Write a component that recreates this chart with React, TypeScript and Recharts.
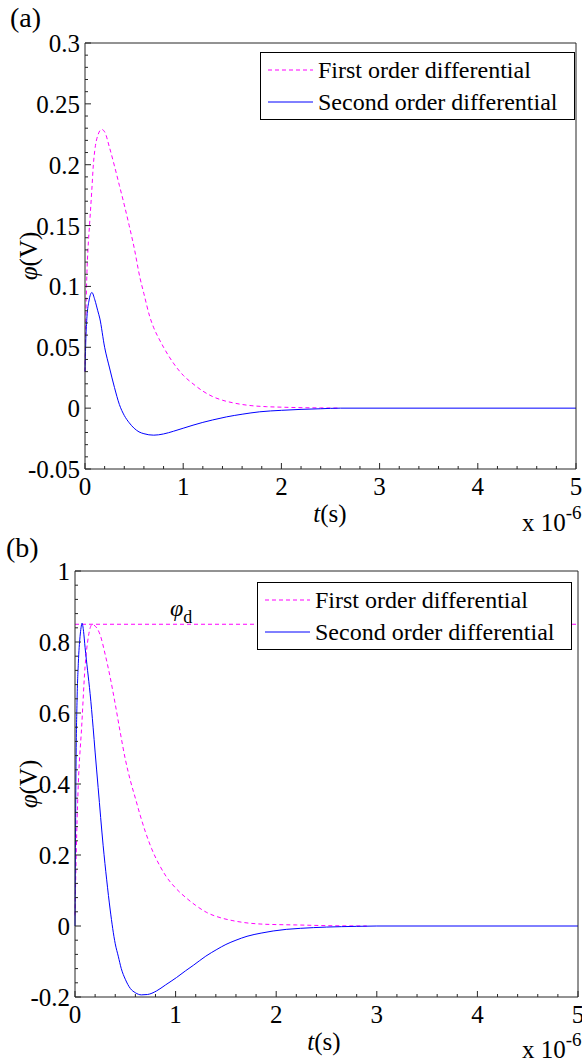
import React from 'react';
import { LineChart, Line, XAxis, YAxis, ReferenceLine, Legend } from 'recharts';

const FONT = '"Liberation Serif", "Times New Roman", Times, serif';
const AXIS_COLOR = '#262626';
const FIRST_COLOR = '#ff00ff';
const SECOND_COLOR = '#0000ff';
const DASH = '4 3';
const MAJOR_LEN = 6;
const MINOR_LEN = 3;
const TICK_FONT = 25;

const seriesNames = ['First order differential', 'Second order differential'];

// x axis (time, in units of 1e-6 s)
const xDomain: [number, number] = [0, 5];
const xMajorTicks = [0, 1, 2, 3, 4, 5];
const xMinorStep = 0.2;

// ---------- panel (a) ----------
const yDomainA: [number, number] = [-0.05, 0.3];
const yMajorTicksA = [-0.05, 0, 0.05, 0.1, 0.15, 0.2, 0.25, 0.3];
const yMinorStepA = 0.01;

const timeFirstA = [0, 0.01, 0.02, 0.03, 0.05, 0.07, 0.085, 0.1, 0.13, 0.17, 0.2, 0.25, 0.3, 0.35, 0.4, 0.45, 0.5, 0.56, 0.6, 0.66, 0.7, 0.76, 0.8, 0.9, 1.0, 1.1, 1.2, 1.3, 1.4, 1.5, 1.6, 1.7, 1.85, 2.0, 2.2, 2.4, 2.6];
const firstA = [0.03, 0.08, 0.112, 0.13, 0.155, 0.18, 0.2, 0.212, 0.224, 0.229, 0.227, 0.214, 0.199, 0.183, 0.167, 0.15, 0.132, 0.107, 0.094, 0.075, 0.066, 0.056, 0.05, 0.037, 0.027, 0.02, 0.014, 0.0095, 0.0065, 0.0045, 0.003, 0.002, 0.0012, 0.0008, 0.0004, 0.0002, 0];

const timeSecondA = [0, 0.01, 0.02, 0.04, 0.07, 0.1, 0.13, 0.15, 0.2, 0.25, 0.3, 0.35, 0.4, 0.45, 0.5, 0.55, 0.6, 0.7, 0.8, 0.9, 1.0, 1.1, 1.2, 1.3, 1.44, 1.6, 1.78, 2.0, 2.2, 2.4, 2.6, 5];
const secondA = [0.03, 0.06, 0.075, 0.088, 0.095, 0.089, 0.08, 0.074, 0.05, 0.033, 0.017, 0.003, -0.006, -0.012, -0.0165, -0.0195, -0.021, -0.0222, -0.0212, -0.019, -0.0165, -0.014, -0.0117, -0.0097, -0.0072, -0.005, -0.003, -0.0018, -0.001, -0.0005, 0, 0];

// ---------- panel (b) ----------
const yDomainB: [number, number] = [-0.2, 1];
const yMajorTicksB = [-0.2, 0, 0.2, 0.4, 0.6, 0.8, 1];
const yMinorStepB = 0.04;
const phiD = 0.85;

const timeFirstB = [0, 0.017, 0.033, 0.066, 0.1, 0.133, 0.17, 0.2, 0.25, 0.3, 0.35, 0.4, 0.45, 0.5, 0.55, 0.6, 0.65, 0.7, 0.76, 0.85, 0.91, 1.0, 1.11, 1.2, 1.31, 1.45, 1.57, 1.7, 1.84, 2.0, 2.2, 2.5, 2.9];
const firstB = [0.03, 0.26, 0.4, 0.56, 0.73, 0.815, 0.849, 0.845, 0.82, 0.765, 0.7, 0.625, 0.545, 0.47, 0.41, 0.36, 0.31, 0.265, 0.219, 0.166, 0.138, 0.107, 0.078, 0.058, 0.038, 0.023, 0.015, 0.009, 0.0056, 0.004, 0.003, 0.001, 0];

const timeSecondB = [0, 0.005, 0.01, 0.02, 0.033, 0.05, 0.06, 0.07, 0.085, 0.1, 0.125, 0.15, 0.18, 0.2, 0.23, 0.28, 0.315, 0.35, 0.4, 0.43, 0.46, 0.5, 0.55, 0.6, 0.66, 0.72, 0.81, 0.9, 1.01, 1.1, 1.18, 1.3, 1.41, 1.5, 1.6, 1.71, 1.85, 1.97, 2.1, 2.24, 2.5, 2.8, 3.0, 5];
const secondB = [0, 0.25, 0.45, 0.63, 0.74, 0.815, 0.84, 0.853, 0.83, 0.785, 0.72, 0.655, 0.56, 0.49, 0.39, 0.226, 0.13, 0.045, -0.05, -0.085, -0.12, -0.15, -0.176, -0.188, -0.194, -0.193, -0.183, -0.166, -0.145, -0.126, -0.11, -0.085, -0.066, -0.052, -0.04, -0.029, -0.02, -0.014, -0.0095, -0.0066, -0.003, -0.001, 0, 0];

// ---------- helpers ----------
const toSeries = (ts: number[], vs: number[]) => ts.map((t, i) => ({ t, v: vs[i] }));

const buildTicks = (domain: [number, number], step: number) => {
  const n = Math.round((domain[1] - domain[0]) / step);
  const out: number[] = [];
  for (let i = 0; i <= n; i++) out.push(Math.round((domain[0] + i * step) * 10000) / 10000);
  return out;
};

const isMajor = (v: number, majors: number[]) => majors.some((m) => Math.abs(m - v) < 1e-9);

const textProps = { fontFamily: FONT, fontSize: TICK_FONT, fill: '#000' };

const makeBottomTick = (majors: number[]) => (props: any) => {
  const { x, y, payload } = props;
  const major = isMajor(payload.value, majors);
  return (
    <g>
      <line x1={x} x2={x} y1={y} y2={y - (major ? MAJOR_LEN : MINOR_LEN)} stroke={AXIS_COLOR} />
      {major ? (
        <text x={x} y={y + 26} textAnchor="middle" {...textProps}>
          {String(payload.value)}
        </text>
      ) : null}
    </g>
  );
};

const makeTopTick = (majors: number[]) => (props: any) => {
  const { x, y, payload } = props;
  const major = isMajor(payload.value, majors);
  return <line x1={x} x2={x} y1={y} y2={y + (major ? MAJOR_LEN : MINOR_LEN)} stroke={AXIS_COLOR} />;
};

const makeLeftTick = (majors: number[]) => (props: any) => {
  const { x, y, payload } = props;
  const major = isMajor(payload.value, majors);
  return (
    <g>
      <line x1={x} x2={x + (major ? MAJOR_LEN : MINOR_LEN)} y1={y} y2={y} stroke={AXIS_COLOR} />
      {major ? (
        <text x={x - 5} y={y + 9} textAnchor="end" {...textProps}>
          {String(payload.value)}
        </text>
      ) : null}
    </g>
  );
};

const makeRightTick = (majors: number[]) => (props: any) => {
  const { x, y, payload } = props;
  const major = isMajor(payload.value, majors);
  return <line x1={x} x2={x - (major ? MAJOR_LEN : MINOR_LEN)} y1={y} y2={y} stroke={AXIS_COLOR} />;
};

const renderLegend = (props: any) => {
  const { payload } = props;
  return (
    <div
      style={{
        width: 313,
        height: 65,
        border: '1px solid #000',
        background: '#fff',
        paddingTop: 1,
        boxSizing: 'content-box',
        fontFamily: FONT,
        fontSize: 24,
        color: '#000',
      }}
    >
      {(payload || []).map((entry: any, i: number) => (
        <div key={i} style={{ display: 'flex', alignItems: 'center', height: 32, whiteSpace: 'nowrap' }}>
          <svg width={57} height={10} style={{ flex: 'none' }}>
            <line
              x1={7}
              x2={52}
              y1={5}
              y2={5}
              stroke={entry.color}
              strokeWidth={1}
              strokeDasharray={entry.payload && entry.payload.strokeDasharray ? entry.payload.strokeDasharray : undefined}
            />
          </svg>
          <span style={{ lineHeight: '32px' }}>{entry.value}</span>
        </div>
      ))}
    </div>
  );
};

type PanelProps = {
  width: number;
  height: number;
  margin: { top: number; right: number; bottom: number; left: number };
  yAxisWidth: number;
  yDomain: [number, number];
  yMajor: number[];
  yMinorStep: number;
  first: { t: number; v: number }[];
  second: { t: number; v: number }[];
  legendPos: { left: number; top: number };
  refY?: number;
};

const Panel = (p: PanelProps) => {
  const xTicks = buildTicks(xDomain, xMinorStep);
  const yTicks = buildTicks(p.yDomain, p.yMinorStep);
  return (
    <LineChart width={p.width} height={p.height} margin={p.margin}>
      <XAxis
        xAxisId="b"
        dataKey="t"
        type="number"
        domain={xDomain}
        ticks={xTicks}
        interval={0}
        tickLine={false}
        tickSize={0}
        tickMargin={0}
        height={30}
        axisLine={{ stroke: AXIS_COLOR }}
        tick={makeBottomTick(xMajorTicks)}
      />
      <XAxis
        xAxisId="t"
        dataKey="t"
        type="number"
        orientation="top"
        mirror
        domain={xDomain}
        ticks={xTicks}
        interval={0}
        tickLine={false}
        tickSize={0}
        tickMargin={0}
        axisLine={{ stroke: AXIS_COLOR }}
        tick={makeTopTick(xMajorTicks)}
      />
      <YAxis
        yAxisId="l"
        type="number"
        domain={p.yDomain}
        ticks={yTicks}
        interval={0}
        tickLine={false}
        tickSize={0}
        tickMargin={0}
        width={p.yAxisWidth}
        axisLine={{ stroke: AXIS_COLOR }}
        tick={makeLeftTick(p.yMajor)}
      />
      <YAxis
        yAxisId="r"
        type="number"
        orientation="right"
        mirror
        domain={p.yDomain}
        ticks={yTicks}
        interval={0}
        tickLine={false}
        tickSize={0}
        tickMargin={0}
        axisLine={{ stroke: AXIS_COLOR }}
        tick={makeRightTick(p.yMajor)}
      />
      {p.refY !== undefined ? (
        <ReferenceLine
          xAxisId="b"
          yAxisId="l"
          y={p.refY}
          stroke={FIRST_COLOR}
          strokeDasharray={DASH}
          label={(lp: any) => {
            const vb = lp.viewBox || {};
            return (
              <text x={(vb.x || 0) + 95} y={(vb.y || 0) - 8} fontFamily={FONT} fontSize={24} fill="#000">
                <tspan fontStyle="italic">φ</tspan>
                <tspan fontSize={18} dy={7}>d</tspan>
              </text>
            );
          }}
        />
      ) : null}
      <Line
        xAxisId="b"
        yAxisId="l"
        data={p.first}
        dataKey="v"
        name={seriesNames[0]}
        type="monotone"
        stroke={FIRST_COLOR}
        strokeWidth={1}
        strokeDasharray={DASH}
        dot={false}
        activeDot={false}
        legendType="line"
        isAnimationActive={false}
      />
      <Line
        xAxisId="b"
        yAxisId="l"
        data={p.second}
        dataKey="v"
        name={seriesNames[1]}
        type="monotone"
        stroke={SECOND_COLOR}
        strokeWidth={1}
        dot={false}
        activeDot={false}
        legendType="line"
        isAnimationActive={false}
      />
      <Legend
        layout="vertical"
        align="center"
        verticalAlign="middle"
        content={renderLegend}
        wrapperStyle={{ left: p.legendPos.left, top: p.legendPos.top, width: 315, height: 67 }}
      />
    </LineChart>
  );
};

const Overlay = () => {
  const t = { fontFamily: FONT, fill: '#000' };
  const xLabel = (cx: number, baseline: number) => (
    <text x={cx} y={baseline} textAnchor="middle" fontSize={25} {...t}>
      <tspan fontStyle="italic">t</tspan>
      <tspan>(s)</tspan>
    </text>
  );
  const scale = (x: number, baseline: number) => (
    <text x={x} y={baseline} fontSize={25} {...t}>
      x 10
      <tspan fontSize={19} dy={-12}>-6</tspan>
    </text>
  );
  const yLabel = (cx: number, cy: number) => (
    <text x={cx} y={cy} textAnchor="middle" fontSize={25} transform={`rotate(-90 ${cx} ${cy})`} {...t}>
      <tspan fontStyle="italic">φ</tspan>
      <tspan>(V)</tspan>
    </text>
  );
  return (
    <svg width={582} height={1062} style={{ position: 'absolute', left: 0, top: 0, pointerEvents: 'none' }}>
      <text x={10} y={27} fontSize={28} {...t}>(a)</text>
      <text x={6} y={557} fontSize={28} {...t}>(b)</text>
      {xLabel(330, 522)}
      {xLabel(324, 1050)}
      {scale(522, 531)}
      {scale(522, 1058)}
      {yLabel(37, 256)}
      {yLabel(37, 784)}
    </svg>
  );
};

export default function App() {
  return (
    <div style={{ position: 'absolute', left: 0, top: 0, width: 582, height: 1062, background: '#fff', overflow: 'hidden' }}>
      <div style={{ position: 'absolute', left: 0, top: 0 }}>
        <Panel
          width={582}
          height={530}
          margin={{ top: 43, right: 6, bottom: 31, left: 25 }}
          yAxisWidth={60}
          yDomain={yDomainA}
          yMajor={yMajorTicksA}
          yMinorStep={yMinorStepA}
          first={toSeries(timeFirstA, firstA)}
          second={toSeries(timeSecondA, secondA)}
          legendPos={{ left: 260, top: 52 }}
        />
      </div>
      <div style={{ position: 'absolute', left: 0, top: 530 }}>
        <Panel
          width={582}
          height={532}
          margin={{ top: 41, right: 4, bottom: 35, left: 25 }}
          yAxisWidth={50}
          yDomain={yDomainB}
          yMajor={yMajorTicksB}
          yMinorStep={yMinorStepB}
          first={toSeries(timeFirstB, firstB)}
          second={toSeries(timeSecondB, secondB)}
          legendPos={{ left: 257, top: 52 }}
          refY={phiD}
        />
      </div>
      <Overlay />
    </div>
  );
}
